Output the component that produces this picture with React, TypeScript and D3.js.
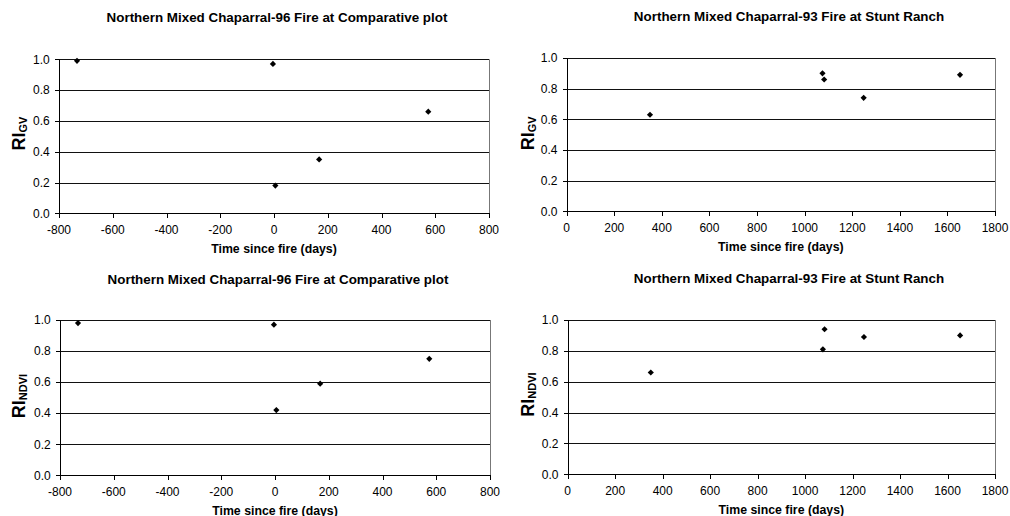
import React from 'react';
import * as d3 from 'd3';

const days96 = [-733, -4, 5, 168, 574];
const gv96 = [0.99, 0.97, 0.18, 0.35, 0.66];
const ndvi96 = [0.98, 0.97, 0.42, 0.59, 0.75];
const days93 = [350, 1075, 1082, 1248, 1653];
const gv93 = [0.63, 0.9, 0.86, 0.74, 0.89];
const ndvi93 = [0.66, 0.81, 0.94, 0.89, 0.9];
const xTicks96 = [-800, -600, -400, -200, 0, 200, 400, 600, 800];
const xTicks93 = [0, 200, 400, 600, 800, 1000, 1200, 1400, 1600, 1800];
const yTicks = [0, 0.2, 0.4, 0.6, 0.8, 1.0];
const title96 = 'Northern Mixed Chaparral-96 Fire at Comparative plot';
const title93 = 'Northern Mixed Chaparral-93 Fire at Stunt Ranch';
const xTitle = 'Time since fire (days)';

type PanelProps = {
  days: number[];
  vals: number[];
  xTicks: number[];
  title: string;
  sub: string;
  left: number;
  right: number;
  top: number;
  bottom: number;
  titleX: number;
  titleY: number;
  ylabX: number;
  ylabY: number;
  xTitleY: number;
};

const FONT = 'Liberation Sans, Arial, Helvetica, sans-serif';

function Panel(p: PanelProps) {
  const x = d3
    .scaleLinear()
    .domain([p.xTicks[0], p.xTicks[p.xTicks.length - 1]])
    .range([p.left, p.right]);
  const y = d3.scaleLinear().domain([0, 1]).range([p.bottom, p.top]);
  const diamond = d3.symbol().type(d3.symbolSquare).size(19)();
  const cx = (p.left + p.right) / 2;
  return (
    <g fontFamily={FONT} fill="#000">
      <text x={p.titleX} y={p.titleY} textAnchor="middle" fontSize={13.4} fontWeight="bold">
        {p.title}
      </text>
      {/* gridlines */}
      {yTicks.slice(1).map((t) => (
        <line
          key={'g' + t}
          x1={p.left}
          x2={p.right}
          y1={Math.round(y(t)) + 0.5}
          y2={Math.round(y(t)) + 0.5}
          stroke="#111"
          strokeWidth={1}
        />
      ))}
      {/* right border */}
      <line
        x1={Math.round(p.right) + 0.5}
        x2={Math.round(p.right) + 0.5}
        y1={p.top}
        y2={p.bottom}
        stroke="#777"
        strokeWidth={1}
      />
      {/* y axis */}
      <line
        x1={Math.round(p.left) + 0.5}
        x2={Math.round(p.left) + 0.5}
        y1={Math.round(y(1)) + 0.5}
        y2={Math.round(p.bottom) + 0.5}
        stroke="#000"
        strokeWidth={1}
      />
      {yTicks.map((t) => (
        <g key={'y' + t}>
          <line
            x1={Math.round(p.left) - 4}
            x2={Math.round(p.left) + 0.5}
            y1={Math.round(y(t)) + 0.5}
            y2={Math.round(y(t)) + 0.5}
            stroke="#000"
          />
          <text x={p.left - 9.3} y={y(t) + 4.3} textAnchor="end" fontSize={12}>
            {d3.format('.1f')(t)}
          </text>
        </g>
      ))}
      {/* x axis */}
      <line
        x1={p.left}
        x2={Math.round(p.right) + 1}
        y1={Math.round(p.bottom) + 0.5}
        y2={Math.round(p.bottom) + 0.5}
        stroke="#000"
        strokeWidth={1}
      />
      {p.xTicks.map((t) => (
        <g key={'x' + t}>
          <line
            x1={Math.round(x(t)) + 0.5}
            x2={Math.round(x(t)) + 0.5}
            y1={Math.round(p.bottom) + 0.5}
            y2={Math.round(p.bottom) + 5}
            stroke="#000"
          />
          <text x={x(t)} y={p.bottom + 20.5} textAnchor="middle" fontSize={12}>
            {String(t)}
          </text>
        </g>
      ))}
      <text x={cx} y={p.xTitleY} textAnchor="middle" fontSize={12.3} fontWeight="bold">
        {xTitle}
      </text>
      {/* y label */}
      <text
        transform={`translate(${p.ylabX},${p.ylabY}) rotate(-90)`}
        textAnchor="middle"
        fontWeight="bold"
        fontSize={18}
      >
        RI
        <tspan fontSize={11} dy={2}>
          {p.sub}
        </tspan>
      </text>
      {/* points */}
      {p.days.map((d, i) => (
        <path
          key={'p' + i}
          d={diamond}
          transform={`translate(${x(d)},${y(p.vals[i])}) rotate(45)`}
          fill="#000"
        />
      ))}
    </g>
  );
}

export default function App() {
  return (
    <svg
      width={1010}
      height={516}
      style={{ position: 'absolute', left: 0, top: 0, background: '#fff', display: 'block' }}
    >
      <rect x={0} y={0} width={1010} height={516} fill="#fff" />
      <Panel
        days={days96}
        vals={gv96}
        xTicks={xTicks96}
        title={title96}
        sub="GV"
        left={59}
        right={489}
        top={59.3}
        bottom={213.3}
        titleX={277}
        titleY={21.5}
        ylabX={24.5}
        ylabY={133.5}
        xTitleY={252.5}
      />
      <Panel
        days={days93}
        vals={gv93}
        xTicks={xTicks93}
        title={title93}
        sub="GV"
        left={566.7}
        right={995}
        top={58}
        bottom={211.3}
        titleX={789}
        titleY={21}
        ylabX={533.5}
        ylabY={133.3}
        xTitleY={251}
      />
      <Panel
        days={days96}
        vals={ndvi96}
        xTicks={xTicks96}
        title={title96}
        sub="NDVI"
        left={60}
        right={490}
        top={320}
        bottom={475.3}
        titleX={278}
        titleY={283.5}
        ylabX={25}
        ylabY={396}
        xTitleY={514.5}
      />
      <Panel
        days={days93}
        vals={ndvi93}
        xTicks={xTicks93}
        title={title93}
        sub="NDVI"
        left={567.7}
        right={995}
        top={320}
        bottom={474.3}
        titleX={789}
        titleY={283}
        ylabX={534}
        ylabY={394.5}
        xTitleY={514}
      />
    </svg>
  );
}
